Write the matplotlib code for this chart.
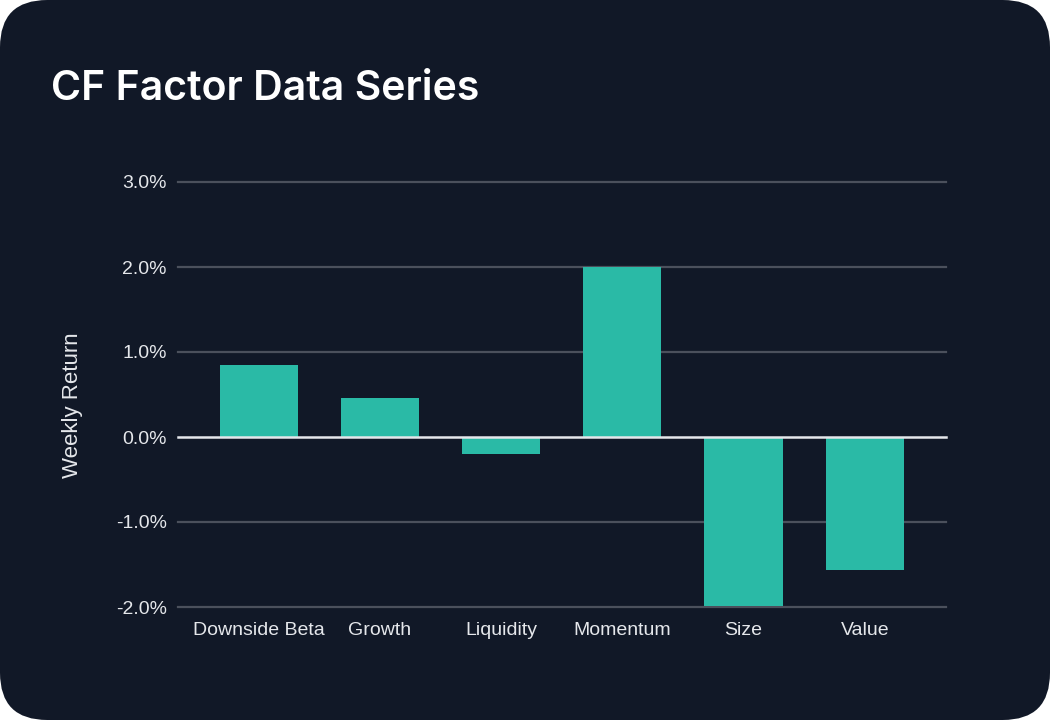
import matplotlib
matplotlib.use("Agg")
import matplotlib.pyplot as plt
from matplotlib.patches import FancyBboxPatch
from matplotlib.ticker import FuncFormatter

factors = ["Downside Beta", "Growth", "Liquidity", "Momentum", "Size", "Value"]
weekly_return = [0.85, 0.46, -0.20, 2.00, -1.99, -1.57]
y_ticks = [-2, -1, 0, 1, 2, 3]

bg = "#111827"
bar_color = "#2ABAA6"
text_color = "#E5E7EB"
grid_color = "#4B505C"

fig = plt.figure(figsize=(10.5, 7.2), dpi=100)
fig.patch.set_facecolor("white")

# rounded dark panel
panel = FancyBboxPatch((0, 0), 1, 1, boxstyle="round,pad=0,rounding_size=0.045",
                       transform=fig.transFigure, facecolor=bg, edgecolor="none",
                       mutation_aspect=1050 / 720, zorder=-10)
fig.patches.append(panel)

fig.text(51 / 1050, 1 - 100 / 720, "CF Factor Data Series", color="white",
         fontsize=29.5, fontweight=600, family=["Inter", "DejaVu Sans"],
         va="baseline", ha="left")

ax = fig.add_axes([178 / 1050, 1 - 607 / 720, 768 / 1050, 425 / 720])
ax.set_facecolor("none")

x = list(range(len(factors)))
ax.bar(x, weekly_return, width=0.645, color=bar_color, zorder=2)

for t in y_ticks:
    if t == 0:
        continue
    ax.axhline(t, color=grid_color, linewidth=1.6, zorder=1, clip_on=False)
ax.axhline(0, color=text_color, linewidth=1.8, zorder=3, clip_on=False)

ax.set_xlim(-0.665, 5.67)
ax.set_ylim(-2, 3)
ax.set_yticks(y_ticks)
ax.yaxis.set_major_formatter(FuncFormatter(lambda v, p: f"{v:.1f}%"))
ax.set_xticks(x)
ax.set_xticklabels(factors)

for s in ax.spines.values():
    s.set_visible(False)
ax.tick_params(axis="both", length=0, colors=text_color, labelsize=14)
ax.tick_params(axis="y", pad=8)
ax.tick_params(axis="x", pad=11)
for lab in ax.get_xticklabels() + ax.get_yticklabels():
    lab.set_family(["Liberation Sans", "DejaVu Sans"])

ax.set_ylabel("Weekly Return", color=text_color, fontsize=16,
              family=["Liberation Sans", "DejaVu Sans"])
ax.yaxis.set_label_coords(-(178 - 83) / 768, 0.5 - (405 - 394.5) / 425)

fig.savefig("out.png", dpi=100, facecolor=fig.get_facecolor())
